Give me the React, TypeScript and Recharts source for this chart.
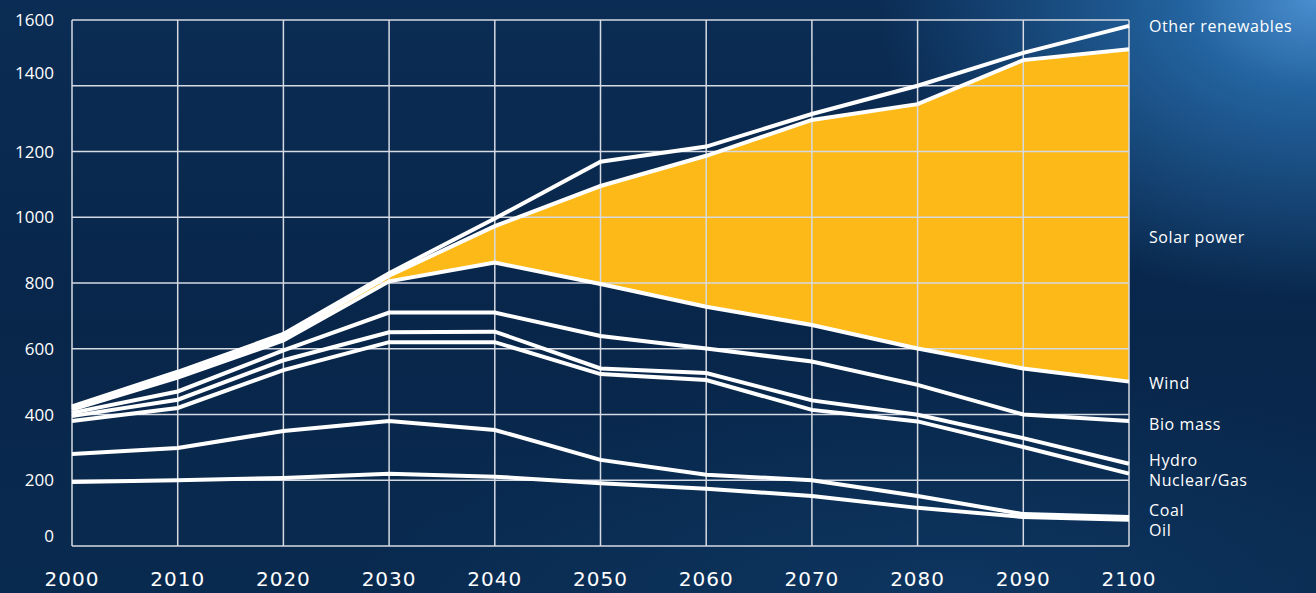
import React from "react";
import {
  ComposedChart,
  Area,
  Line,
  XAxis,
  YAxis,
  CartesianGrid,
} from "recharts";

// cumulative totals (each line is the top of its band)
const years = [2000, 2010, 2020, 2030, 2040, 2050, 2060, 2070, 2080, 2090, 2100];
const oil = [195, 200, 207, 220, 211, 191, 174, 152, 116, 88, 80];
const coal = [280, 298, 350, 380, 353, 262, 217, 200, 152, 97, 88];
const nuclearGas = [380, 420, 535, 620, 620, 523, 505, 414, 379, 301, 220];
const hydro = [395, 445, 565, 650, 652, 540, 526, 443, 399, 328, 250];
const bioMass = [405, 470, 595, 710, 710, 639, 601, 561, 490, 400, 380];
const wind = [415, 512, 625, 805, 862, 797, 728, 672, 601, 540, 500];
const solar = [420, 522, 635, 822, 973, 1095, 1187, 1296, 1344, 1478, 1511];
const otherRenewables = [425, 530, 645, 830, 996, 1169, 1215, 1314, 1400, 1500, 1582];

const yTicks = [0, 200, 400, 600, 800, 1000, 1200, 1400, 1600];

// names shown on the right, with the value each one sits at
const sourceNames = ["Other renewables", "Solar power", "Wind", "Bio mass", "Hydro", "Nuclear/Gas", "Coal", "Oil"];
const sourceNameValues = [1580, 940, 496, 371, 262, 199, 110, 48];

const data = years.map((year, i) => ({
  year,
  oil: oil[i],
  coal: coal[i],
  nuclearGas: nuclearGas[i],
  hydro: hydro[i],
  bioMass: bioMass[i],
  wind: wind[i],
  solar: solar[i],
  otherRenewables: otherRenewables[i],
  solarBand: [wind[i], solar[i]],
}));

const lineKeys = ["oil", "coal", "nuclearGas", "hydro", "bioMass", "wind", "solar", "otherRenewables"];

const W = 1316;
const H = 593;

// the original artwork sets a couple of value labels slightly off their gridlines
const labelNudge: Record<number, number> = { 1400: -13, 0: -10 };

function ValueTick(props: any) {
  const { x, y, payload } = props;
  const dy = labelNudge[payload.value] || 0;
  return (
    <text x={x} y={y + dy} dy="0.355em" textAnchor="end" fill="#ffffff" fontSize={17} fontFamily="Open Sans">
      {payload.value}
    </text>
  );
}

export default function App() {
  return (
    <div
      style={{
        position: "absolute",
        left: 0,
        top: 0,
        width: W,
        height: H,
        overflow: "hidden",
        background:
          "radial-gradient(ellipse 440px 300px at 1316px 0px, #4a8ecf 0%, #23639f 30%, rgba(16,60,110,0) 100%)," +
          "radial-gradient(ellipse 600px 220px at 950px 593px, rgba(20,70,120,0.4) 0%, rgba(20,70,120,0) 100%)," +
          "linear-gradient(180deg, #0b2c54 0%, #08264a 55%, #092a4f 100%)",
      }}
    >
      <ComposedChart width={W} height={H} data={data} margin={{ top: 20, right: 0, bottom: 0, left: 0 }}>
        <XAxis
          dataKey="year"
          type="number"
          domain={[2000, 2100]}
          ticks={years}
          interval={0}
          height={47}
          axisLine={false}
          tickLine={false}
          tickSize={0}
          tickMargin={26}
          tick={{ fill: "#ffffff", fontSize: 20, fontFamily: "DejaVu Sans", letterSpacing: 1 }}
        />
        <YAxis
          yAxisId="left"
          type="number"
          domain={[0, 1600]}
          ticks={yTicks}
          interval={0}
          width={72}
          axisLine={false}
          tickLine={false}
          tickSize={0}
          tickMargin={18}
          tick={<ValueTick />}
        />
        <YAxis
          yAxisId="right"
          orientation="right"
          type="number"
          domain={[0, 1600]}
          ticks={sourceNameValues}
          interval={0}
          width={187}
          axisLine={false}
          tickLine={false}
          tickSize={0}
          tickMargin={20}
          tickFormatter={(v: number) => sourceNames[sourceNameValues.indexOf(v)]}
          tick={{ fill: "#ffffff", fontSize: 16, fontFamily: "Open Sans", letterSpacing: 0.6 }}
        />
        <Area
          yAxisId="right"
          type="linear"
          dataKey="solarBand"
          fill="#fcb918"
          fillOpacity={1}
          stroke="none"
          isAnimationActive={false}
        />
        <CartesianGrid
          yAxisId="left"
          stroke="#d6dae2"
          strokeWidth={1.5}
          horizontalValues={yTicks}
          verticalValues={years}
          zIndex={150}
        />
        {lineKeys.map((key) => (
          <Line
            key={key}
            yAxisId="left"
            type="linear"
            dataKey={key}
            stroke="#ffffff"
            strokeWidth={4}
            dot={false}
            activeDot={false}
            isAnimationActive={false}
          />
        ))}
      </ComposedChart>
    </div>
  );
}
